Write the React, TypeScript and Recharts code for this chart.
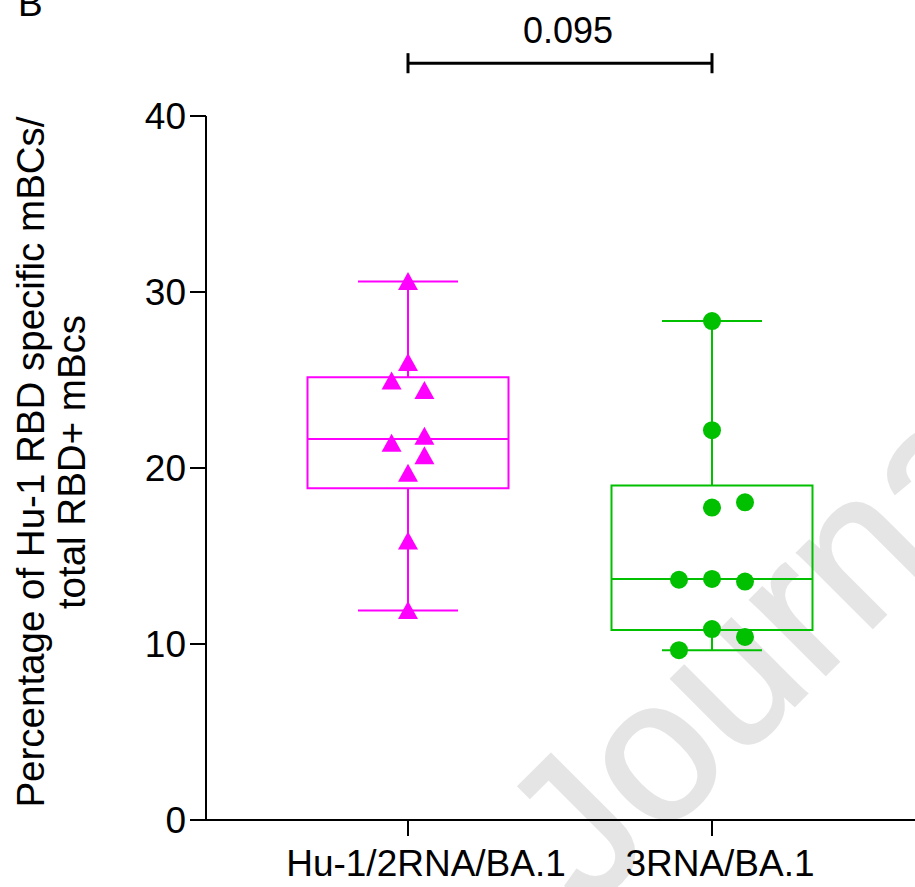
import React from 'react';
import {
  ComposedChart,
  XAxis,
  YAxis,
  Scatter,
  ReferenceArea,
  ReferenceLine,
  Label,
} from 'recharts';

// ---------- data ----------
const categories = ['Hu-1/2RNA/BA.1', '3RNA/BA.1'];
const categoryPositions = [1, 2];

const hu1Values = [30.6, 26.0, 24.95, 24.4, 21.4, 21.8, 20.7, 19.7, 15.85, 11.9];
const hu1Lanes = [0, 0, -1, 1, -1, 1, 1, 0, 0, 0];

const ba1Values = [28.35, 22.15, 17.75, 18.05, 13.65, 13.7, 13.55, 10.85, 10.4, 9.65];
const ba1Lanes = [0, 0, 0, 1, -1, 0, 1, 0, 1, -1];

// [min, q1, median, q3, max]
const hu1Box = [11.9, 18.85, 21.65, 25.15, 30.6];
const ba1Box = [9.65, 10.8, 13.7, 19.0, 28.35];

const yTicks = [0, 10, 20, 30, 40];
const pValue = '0.095';
const pValueLevel = 43;
const yLabelLine1 = 'Percentage of Hu-1 RBD specific mBCs/';
const yLabelLine2 = 'total RBD+ mBcs';
const panelLetter = 'B';
const watermark = 'Journal Pre-proof';

// ---------- styles ----------
const FONT = '"Liberation Sans", Arial, Helvetica, sans-serif';
const MAGENTA = '#ff00ff';
const GREEN = '#00c000';
const X_DOMAIN: [number, number] = [0.3355, 2.6678];
const BOX_HALF = 0.3306;
const CAP_HALF = 0.1645;
const HU1_SPREAD = 0.054;
const BA1_SPREAD = 0.1086;
const TICK_LABEL_DX = [18, 8];

const hu1Points = hu1Values.map((y, i) => ({ x: categoryPositions[0] + hu1Lanes[i] * HU1_SPREAD, y }));
const ba1Points = ba1Values.map((y, i) => ({ x: categoryPositions[1] + ba1Lanes[i] * BA1_SPREAD, y }));

const Triangle = (props: any) => {
  const { cx, cy } = props;
  if (cx == null || cy == null) return null;
  return (
    <polygon
      points={`${cx},${cy - 9.5} ${cx - 10},${cy + 8.5} ${cx + 10},${cy + 8.5}`}
      fill={MAGENTA}
    />
  );
};

const Dot = (props: any) => {
  const { cx, cy } = props;
  if (cx == null || cy == null) return null;
  return <circle cx={cx} cy={cy} r={9} fill={GREEN} />;
};

const XTick = (props: any) => {
  const { x, y, payload } = props;
  const idx = categoryPositions.indexOf(payload.value);
  const label = categories[idx] ?? '';
  return (
    <text
      x={x + (TICK_LABEL_DX[idx] ?? 0)}
      y={y + 28}
      textAnchor="middle"
      fontSize={37}
      fontFamily={FONT}
      fill="#000"
    >
      {label}
    </text>
  );
};

const renderBox = (pos: number, box: number[], color: string, key: string) => {
  const [mn, q1, med, q3, mx] = box;
  const common = { stroke: color, strokeWidth: 2, ifOverflow: 'visible' as const };
  return [
    <ReferenceArea
      key={key + 'box'}
      x1={pos - BOX_HALF}
      x2={pos + BOX_HALF}
      y1={q1}
      y2={q3}
      fill="none"
      fillOpacity={0}
      stroke={color}
      strokeWidth={2}
      ifOverflow="visible"
    />,
    <ReferenceLine key={key + 'med'} segment={[{ x: pos - BOX_HALF, y: med }, { x: pos + BOX_HALF, y: med }]} {...common} />,
    <ReferenceLine key={key + 'wu'} segment={[{ x: pos, y: q3 }, { x: pos, y: mx }]} {...common} />,
    <ReferenceLine key={key + 'wl'} segment={[{ x: pos, y: mn }, { x: pos, y: q1 }]} {...common} />,
    <ReferenceLine key={key + 'cu'} segment={[{ x: pos - CAP_HALF, y: mx }, { x: pos + CAP_HALF, y: mx }]} {...common} />,
    <ReferenceLine key={key + 'cl'} segment={[{ x: pos - CAP_HALF, y: mn }, { x: pos + CAP_HALF, y: mn }]} {...common} />,
  ];
};

const YLabelContent = (props: any) => {
  const vb = props.viewBox || { y: 116, height: 704 };
  const cy = vb.y + vb.height / 2 - 6;
  return (
    <g>
      <text
        x={44}
        y={cy}
        transform={`rotate(-90, 44, ${cy})`}
        textAnchor="middle"
        fontSize={38.5}
        fontFamily={FONT}
        fill="#000"
      >
        {yLabelLine1}
      </text>
      <text
        x={85}
        y={cy}
        transform={`rotate(-90, 85, ${cy})`}
        textAnchor="middle"
        fontSize={38.5}
        fontFamily={FONT}
        fill="#000"
      >
        {yLabelLine2}
      </text>
    </g>
  );
};

export default function App() {
  const capSpan = 0.57;
  return (
    <div style={{ position: 'absolute', left: 0, top: 0, width: 915, height: 887, background: '#fff' }}>
      <svg width={915} height={887} style={{ position: 'absolute', left: 0, top: 0 }}>
        <text
          x={588}
          y={912}
          transform="rotate(-45, 588, 912)"
          fontSize={200}
          fontFamily={FONT}
          fill="#e5e5e5"
          stroke="#e5e5e5"
          strokeWidth={3}
        >
          {watermark}
        </text>
        <text x={18} y={16} fontSize={37} fontFamily={FONT} fill="#000">
          {panelLetter}
        </text>
      </svg>
      <div style={{ position: 'absolute', left: 0, top: 0 }}>
        <ComposedChart width={915} height={887} margin={{ top: 116, right: 0, bottom: 0, left: 0 }}>
          <XAxis
            type="number"
            dataKey="x"
            domain={X_DOMAIN}
            allowDataOverflow
            ticks={categoryPositions}
            interval={0}
            height={67}
            tickSize={16}
            tickMargin={12}
            axisLine={{ stroke: '#000', strokeWidth: 2 }}
            tickLine={{ stroke: '#000', strokeWidth: 2 }}
            tick={<XTick />}
          />
          <YAxis
            type="number"
            dataKey="y"
            domain={[0, 40]}
            ticks={yTicks}
            interval={0}
            width={206}
            tickSize={16}
            tickMargin={4}
            axisLine={{ stroke: '#000', strokeWidth: 2 }}
            tickLine={{ stroke: '#000', strokeWidth: 2 }}
            tick={{ fontSize: 37, fill: '#000', fontFamily: FONT }}
          >
            <Label content={<YLabelContent />} />
          </YAxis>

          {renderBox(categoryPositions[0], hu1Box, MAGENTA, 'hu1')}
          {renderBox(categoryPositions[1], ba1Box, GREEN, 'ba1')}

          <ReferenceLine
            segment={[{ x: categoryPositions[0], y: pValueLevel }, { x: categoryPositions[1], y: pValueLevel }]}
            stroke="#000"
            strokeWidth={3}
            ifOverflow="visible"
          >
            <Label value={pValue} position="top" offset={20} dx={8} fontSize={36} fill="#000" fontFamily={FONT} />
          </ReferenceLine>
          <ReferenceLine
            segment={[{ x: categoryPositions[0], y: pValueLevel - capSpan }, { x: categoryPositions[0], y: pValueLevel + capSpan }]}
            stroke="#000"
            strokeWidth={3}
            ifOverflow="visible"
          />
          <ReferenceLine
            segment={[{ x: categoryPositions[1], y: pValueLevel - capSpan }, { x: categoryPositions[1], y: pValueLevel + capSpan }]}
            stroke="#000"
            strokeWidth={3}
            ifOverflow="visible"
          />

          <Scatter data={hu1Points} shape={<Triangle />} isAnimationActive={false} />
          <Scatter data={ba1Points} shape={<Dot />} isAnimationActive={false} />
        </ComposedChart>
      </div>
    </div>
  );
}
